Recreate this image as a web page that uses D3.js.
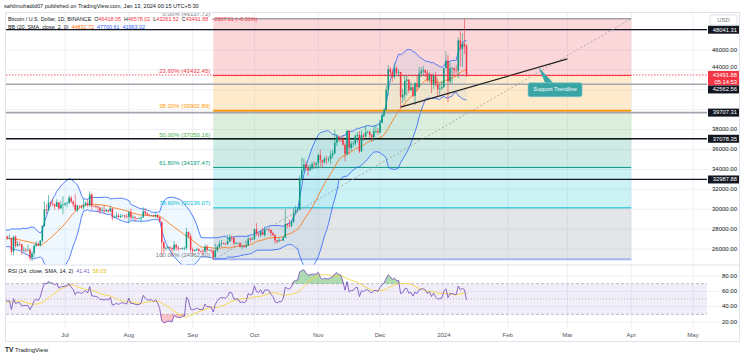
<!DOCTYPE html>
<html>
<head>
<meta charset="utf-8">
<script src="https://cdn.jsdelivr.net/npm/d3@7"></script>
<style>
  body { margin: 0; background: #fff; }
  svg { display: block; font-family: "Liberation Sans", Arial, sans-serif; }
</style>
</head>
<body>
<div id="chart"></div>
<script>
/* BTCUSD daily with fib retracement, bollinger bands and RSI */

const startDate = "2023-05-01";
const firstOpen = 29233;
const lastOpen = 46418.05;

// daily closes, May 1 2023 .. Jan 12 2024
const closes = [
  28068,28669,29026,28838,29506,28848,28430,27668,27629,27599,26964,26795,26775,26917,27162,27032,27405,26821,26881,27102,26748,26851,27219,26329,26474,26720,26868,28085,27745,27702,27219,
  26819,27249,27069,27115,25728,27231,26340,26498,26477,25842,25924,25903,25920,25124,25576,26328,26511,26336,26841,28307,29994,29887,30688,30528,30462,30267,30693,30078,30445,30472,
  30585,30617,31156,30766,30504,29895,30346,30292,30171,30414,30620,30391,31476,30332,30295,30249,30145,29856,29909,29800,29909,29793,30083,29176,29228,29354,29210,29317,29357,29278,29230,
  29705,29186,29193,29114,29072,29088,29183,29767,29563,29426,29397,29415,29283,29409,29170,28701,26664,26050,26100,26189,26124,25985,26422,26160,26050,26007,26091,26100,27720,27300,25940,
  25800,25870,25970,25810,25780,25750,26240,25900,25900,25840,25160,25840,26220,26530,26600,26570,26530,26760,27210,27130,26570,26580,26580,26250,26300,26220,26350,27020,26910,26970,
  27990,27500,27430,27790,27410,27930,27950,27920,27590,27390,26870,26760,26860,26850,27150,28500,28400,28330,28720,29670,29910,29990,33070,33920,34500,34150,33900,34090,34530,34490,34650,
  35420,34940,34720,35080,35020,35040,35420,35630,36700,37310,37130,37060,36490,35550,37880,36160,36590,36590,37390,37470,35810,37430,37290,37720,37800,37450,37240,37830,37850,37720,
  38690,39460,39970,41990,44080,43770,43290,44170,43720,43790,41240,41490,42890,43020,41940,42260,41370,42660,42270,43650,43860,43990,43720,43010,43580,42520,43440,42580,42070,42140,42280,
  44180,44940,42850,44150,44160,43970,43930,46970,46110,46630,46340,43491.88
];
const highs = [
  29337,28879,29259,29376,29850,29820,29160,28631,27820,28330,27630,27050,27030,27200,27670,27290,27500,27480,27190,27150,27270,27050,27480,27230,26620,26940,26920,28190,28450,28040,27840,
  27350,27300,27330,27450,27140,27340,27390,26800,26780,26530,26220,26090,26420,26080,25750,26470,26780,26680,26900,28400,30800,30500,31430,30800,31050,30660,31000,30700,30840,31280,
  30660,30770,31380,31320,30880,31500,30440,30390,30430,31030,30800,30980,31800,31640,30390,30450,30340,30240,30190,30420,30060,29990,30350,30100,29380,29690,29570,29530,29420,29450,29530,
  29740,30050,29420,29320,29110,29180,29240,30200,30130,29700,29530,29450,29450,29660,29470,29260,28790,26830,26300,26290,26260,26140,26800,26550,26310,26100,26180,26220,28140,27760,27570,
  26140,25980,26130,26090,25860,26020,26430,26450,25950,26000,25880,26540,26400,26850,26890,26670,26630,27420,27480,27380,27160,26740,26640,26740,26430,26390,26820,27290,27230,27090,
  28060,28590,27670,27830,28120,28280,28040,28100,27990,27730,27480,26940,27100,26970,27290,30000,28610,28980,28920,30200,30360,30230,33400,35200,35130,34850,34490,34480,34760,34850,34720,
  35580,35980,34940,35260,35380,35270,35880,35980,37970,37520,37420,37230,37420,36770,37980,37930,36850,36860,37500,37750,37850,37890,37660,38420,37890,37840,37590,38390,38440,38150,
  38980,39700,40200,42420,44490,44300,44050,44700,44370,44040,43800,42100,43430,43420,43090,42760,42440,42760,43480,44280,44230,44400,44020,43950,43800,43600,43680,43790,43120,42600,42900,
  44190,45880,45500,44770,44330,44230,44500,47250,47900,47700,49100,46578.02
];
const lows = [
  27666,27872,28110,28670,28800,28380,28400,27265,27360,26850,26700,25800,26690,26600,26750,26850,26570,26630,26580,26830,26650,26520,26820,25870,25860,26330,26560,26850,27540,27560,26830,
  26600,26510,26920,26960,25390,25350,26120,26200,26270,25400,25640,25650,25750,24820,24750,25160,26180,26300,26250,26650,28260,29520,29810,30250,30290,29920,30220,29880,30050,29500,
  30320,30170,30550,30640,30200,29850,29700,30050,30060,29950,30270,30200,30250,29940,30250,30090,29660,29510,29760,29570,29720,29640,29740,28860,29080,29100,29070,29120,29260,29040,29100,
  28580,28950,28950,28760,28960,28970,28700,29150,29370,29330,29300,29360,29250,29100,29060,28700,25170,25630,25800,25970,25810,25300,25780,25850,25780,25980,25960,25870,25920,27030,25660,
  25330,25720,25810,25600,25560,25360,25600,25640,25800,25580,24900,25130,25750,26130,26250,26480,26380,26390,26680,26800,26360,26490,26520,26140,25990,26100,26100,26330,26670,26890,
  26950,27330,27160,27200,27370,27170,27880,27720,27300,27290,26550,26560,26700,26810,26820,27110,28080,28140,28170,28610,29470,29720,29880,32880,33680,33820,33340,33880,34040,34070,34080,
  34100,34300,34110,34580,34520,34730,34520,35110,35530,36340,36750,36740,36350,34800,35360,35500,35870,36180,36380,36700,35630,35770,36870,37250,37600,37160,36750,36870,37610,37500,
  37620,38650,39290,39980,41420,43340,42820,43080,43580,43300,40220,40680,40880,41420,41660,41880,41250,40500,41800,42180,43270,43400,43300,42760,42750,41680,42100,42320,41300,41520,41960,
  42190,44150,40750,42630,42630,43470,43620,43200,44350,44300,45610,43263.52
];

const fibHigh = 49137.72, fibLow = 24962.60;
const fibStart = "2023-09-11", fibEnd = "2024-04-01";
const fibRatios = [0, 0.236, 0.382, 0.5, 0.618, 0.786, 1];
const fibLabels = ["0.00% (49137.72)", "23.60% (43432.45)", "38.20% (39902.89)", "50.00% (37050.16)",
                   "61.80% (34197.47)", "78.60% (30136.07)", "100.00% (24962.60)"];
const fibColors = ["#787B86", "#F23645", "#FF9800", "#4CAF50", "#089981", "#00BCD4", "#787B86"];

const blackLevels = [48041.31, 37078.35, 32987.88];
const grayLevels = [42562.56, 39707.31];
const lastPrice = 43491.88;
const countdown = "05:14:53";

const supportLine = [["2023-12-11", 40250], ["2024-03-01", 45100]];
const dottedLine = [["2023-09-11", 24900], ["2024-04-01", 49137.72]];
const callout = { text: "Support Trendline", anchor: "2024-02-16", boxDate: "2024-02-24", boxPrice: 42000 };

const priceTicks = [26000, 28000, 30000, 32000, 34000, 36000, 38000, 40000, 42000, 44000, 46000, 48000];
const rsiTicks = [20, 40, 60, 80];
const monthTicks = ["2023-07-01", "2023-08-01", "2023-09-01", "2023-10-01", "2023-11-01", "2023-12-01",
                    "2024-01-01", "2024-02-01", "2024-03-01", "2024-04-01", "2024-05-01"];
const monthLabels = ["Jul", "Aug", "Sep", "Oct", "Nov", "Dec", "2024", "Feb", "Mar", "Apr", "May"];

const headerText = "sahilmohadid07 published on TradingView.com, Jan 13, 2024 00:15 UTC+5:30";
const ohlcText = ["O46418.05", "H46578.02", "L43263.52", "C43491.88", "\u22122907.01 (\u22126.31%)"];
const bbValues = ["44832.72", "47700.61", "41963.02"];
const rsiValues = ["41.41", "58.03"];

let width = 745,
    height = 358,
    plot = { left: 6, right: 707, top: 13, bottom: 265 },
    rsiPane = { top: 265, bottom: 328 },
    axisRight = 740,
    frameBottom = 342;

const svg = d3.select("#chart")
  .append("svg")
  .attr("width", width)
  .attr("height", height);

const parse = s => new Date(Date.parse(s));
const dayMs = 864e5;
const t0 = Date.parse(startDate);

let data = closes.map((c, i) => ({
  date: new Date(t0 + i * dayMs),
  open: i ? closes[i - 1] : firstOpen,
  high: highs[i],
  low: lows[i],
  close: c
}));
data[data.length - 1].open = lastOpen;

// bollinger bands 20, 2
for (let i = 19; i < data.length; i++) {
  let w = closes.slice(i - 19, i + 1);
  let m = d3.mean(w);
  let sd = Math.sqrt(d3.mean(w, v => (v - m) ** 2));
  data[i].basis = m;
  data[i].upper = m + 2 * sd;
  data[i].lower = m - 2 * sd;
}

// rsi 14 (wilder) and its 14 sma
let avgGain = 0, avgLoss = 0;
for (let i = 1; i < data.length; i++) {
  let ch = closes[i] - closes[i - 1];
  let g = Math.max(ch, 0), l = Math.max(-ch, 0);
  if (i <= 14) {
    avgGain += g / 14; avgLoss += l / 14;
    if (i < 14) continue;
  } else {
    avgGain = (avgGain * 13 + g) / 14;
    avgLoss = (avgLoss * 13 + l) / 14;
  }
  data[i].rsi = 100 - 100 / (1 + avgGain / avgLoss);
}
for (let i = 27; i < data.length; i++) {
  data[i].rsiMa = d3.mean(data.slice(i - 13, i + 1), d => d.rsi);
}

let x = d3.scaleUtc()
  .domain([parse(monthTicks[0]), parse(monthTicks[monthTicks.length - 1])])
  .range([65, 693]);

let y = d3.scaleLinear()
  .domain([26000, 46000])
  .range([249, 50]);

let rsiY = d3.scaleLinear()
  .domain([20, 80])
  .range([322, 276]);

const fmt = d3.format(".2f");

let defs = svg.append("defs");
defs.append("clipPath").attr("id", "clipPrice")
  .append("rect").attr("x", plot.left).attr("y", plot.top)
  .attr("width", plot.right - plot.left).attr("height", plot.bottom - plot.top);
defs.append("clipPath").attr("id", "clipRsi")
  .append("rect").attr("x", plot.left).attr("y", rsiPane.top)
  .attr("width", plot.right - plot.left).attr("height", rsiPane.bottom - rsiPane.top);

// grid
let grid = svg.append("g").attr("stroke", "#eef0f4").attr("stroke-width", 1);
for (let m of monthTicks) {
  grid.append("line")
    .attr("x1", x(parse(m))).attr("x2", x(parse(m)))
    .attr("y1", plot.top).attr("y2", rsiPane.bottom);
}
for (let p of priceTicks) {
  grid.append("line")
    .attr("x1", plot.left).attr("x2", axisRight)
    .attr("y1", y(p)).attr("y2", y(p));
}
for (let r of rsiTicks) {
  grid.append("line")
    .attr("x1", plot.left).attr("x2", axisRight)
    .attr("y1", rsiY(r)).attr("y2", rsiY(r));
}

// ---------- price pane ----------
const pane = svg.append("g").attr("clip-path", "url(#clipPrice)");

let fibLevels = fibRatios.map(r => fibHigh - r * (fibHigh - fibLow));
let fx0 = x(parse(fibStart)), fx1 = x(parse(fibEnd));

for (let k = 0; k < fibLevels.length - 1; k++) {
  pane.append("rect")
    .attr("x", fx0).attr("width", fx1 - fx0)
    .attr("y", y(fibLevels[k])).attr("height", y(fibLevels[k + 1]) - y(fibLevels[k]))
    .attr("fill", fibColors[k + 1]).attr("fill-opacity", 0.2);
}
fibLevels.forEach((lv, k) => {
  pane.append("line")
    .attr("x1", fx0).attr("x2", fx1)
    .attr("y1", y(lv)).attr("y2", y(lv))
    .attr("stroke", k === fibLevels.length - 1 ? "#a9b6ee" : fibColors[k])
    .attr("stroke-width", k === 2 || k === fibLevels.length - 1 ? 2 : 1);
});

// bollinger bands
let bb = data.filter(d => d.basis !== undefined);
pane.append("path")
  .datum(bb)
  .attr("fill", "#2196F3").attr("fill-opacity", 0.07)
  .attr("d", d3.area().x(d => x(d.date)).y0(d => y(d.lower)).y1(d => y(d.upper)));
for (let key of ["upper", "lower"]) {
  pane.append("path")
    .datum(bb)
    .attr("fill", "none").attr("stroke", "#2962FF").attr("stroke-width", 0.8)
    .attr("d", d3.line().x(d => x(d.date)).y(d => y(d[key])));
}
pane.append("path")
  .datum(bb)
  .attr("fill", "none").attr("stroke", "#FF6D00").attr("stroke-width", 0.8)
  .attr("d", d3.line().x(d => x(d.date)).y(d => y(d.basis)));

// horizontal levels
for (let v of grayLevels) {
  pane.append("line")
    .attr("x1", plot.left).attr("x2", plot.right)
    .attr("y1", y(v)).attr("y2", y(v))
    .attr("stroke", "#a3a6ae").attr("stroke-width", 1.6);
}
for (let v of blackLevels) {
  pane.append("line")
    .attr("x1", plot.left).attr("x2", plot.right)
    .attr("y1", y(v)).attr("y2", y(v))
    .attr("stroke", "#131722").attr("stroke-width", 1.3);
}

// candles
let candles = pane.append("g");
for (let d of data) {
  let col = d.close >= d.open ? "#089981" : "#F23645";
  let cx = x(d.date);
  candles.append("line")
    .attr("x1", cx).attr("x2", cx)
    .attr("y1", y(d.high)).attr("y2", y(d.low))
    .attr("stroke", col).attr("stroke-width", 0.6);
  let top = y(Math.max(d.open, d.close)), bot = y(Math.min(d.open, d.close));
  candles.append("rect")
    .attr("x", cx - 0.75).attr("width", 1.5)
    .attr("y", top).attr("height", Math.max(bot - top, 0.6))
    .attr("fill", col);
}

// trend lines
pane.append("line")
  .attr("x1", x(parse(dottedLine[0][0]))).attr("y1", y(dottedLine[0][1]))
  .attr("x2", x(parse(dottedLine[1][0]))).attr("y2", y(dottedLine[1][1]))
  .attr("stroke", "#9a9ca3").attr("stroke-width", 0.8).attr("stroke-dasharray", "2 2");
pane.append("line")
  .attr("x1", x(parse(supportLine[0][0]))).attr("y1", y(supportLine[0][1]))
  .attr("x2", x(parse(supportLine[1][0]))).attr("y2", y(supportLine[1][1]))
  .attr("stroke", "#222").attr("stroke-width", 1.3);

// current price line
pane.append("line")
  .attr("x1", plot.left).attr("x2", plot.right)
  .attr("y1", y(lastPrice)).attr("y2", y(lastPrice))
  .attr("stroke", "#F23645").attr("stroke-width", 0.8).attr("stroke-dasharray", "1.5 1.5");

// fib labels
fibLevels.forEach((lv, k) => {
  pane.append("text")
    .text(fibLabels[k])
    .attr("x", fx0 - 3).attr("y", y(lv) - 2.5)
    .attr("text-anchor", "end")
    .attr("font-size", 6)
    .attr("fill", fibColors[k]);
});

// callout
let slope = (y(supportLine[1][1]) - y(supportLine[0][1])) / (x(parse(supportLine[1][0])) - x(parse(supportLine[0][0])));
let ax = x(parse(callout.anchor));
let ay = y(supportLine[0][1]) + slope * (ax - x(parse(supportLine[0][0])));
let bx = x(parse(callout.boxDate)), by = y(callout.boxPrice);
pane.append("path")
  .attr("d", `M${ax},${ay}L${bx - 10},${by - 7}L${bx - 2},${by - 7}Z`)
  .attr("fill", "#3aa5a5");
pane.append("rect")
  .attr("x", bx - 27).attr("y", by - 7).attr("width", 54).attr("height", 14).attr("rx", 2)
  .attr("fill", "#3aa5a5").attr("stroke", "#7cc7c7").attr("stroke-width", 0.6);
pane.append("text")
  .text(callout.text)
  .attr("x", bx).attr("y", by)
  .attr("text-anchor", "middle").attr("dominant-baseline", "middle")
  .attr("font-size", 5.5).attr("fill", "#fff");

// ---------- rsi pane ----------
const rp = svg.append("g").attr("clip-path", "url(#clipRsi)");
let rsiData = data.filter(d => d.rsi !== undefined);
let maData = data.filter(d => d.rsiMa !== undefined);

rp.append("rect")
  .attr("x", plot.left).attr("width", plot.right - plot.left)
  .attr("y", rsiY(70)).attr("height", rsiY(30) - rsiY(70))
  .attr("fill", "#7E57C2").attr("fill-opacity", 0.1);
for (let lv of [70, 50, 30]) {
  rp.append("line")
    .attr("x1", plot.left).attr("x2", plot.right)
    .attr("y1", rsiY(lv)).attr("y2", rsiY(lv))
    .attr("stroke", "#a0a3ab").attr("stroke-width", 0.7)
    .attr("stroke-dasharray", lv === 50 ? "1 2" : "3 2");
}
rp.append("path")
  .datum(rsiData)
  .attr("fill", "#4CAF50").attr("fill-opacity", 0.45)
  .attr("d", d3.area().x(d => x(d.date)).y0(rsiY(70)).y1(d => rsiY(Math.max(d.rsi, 70))));
rp.append("path")
  .datum(rsiData)
  .attr("fill", "#F23645").attr("fill-opacity", 0.3)
  .attr("d", d3.area().x(d => x(d.date)).y0(rsiY(30)).y1(d => rsiY(Math.min(d.rsi, 30))));
rp.append("path")
  .datum(maData)
  .attr("fill", "none").attr("stroke", "#F5D63B").attr("stroke-width", 0.9)
  .attr("d", d3.line().x(d => x(d.date)).y(d => rsiY(d.rsiMa)));
rp.append("path")
  .datum(rsiData)
  .attr("fill", "none").attr("stroke", "#7E57C2").attr("stroke-width", 0.9)
  .attr("d", d3.line().x(d => x(d.date)).y(d => rsiY(d.rsi)));

// ---------- frame ----------
let frame = svg.append("g").attr("fill", "none").attr("stroke", "#e0e3eb").attr("stroke-width", 1);
frame.append("rect")
  .attr("x", plot.left - 0.5).attr("y", plot.top - 0.5)
  .attr("width", axisRight - plot.left).attr("height", frameBottom - plot.top);
frame.append("line").attr("x1", plot.left).attr("x2", axisRight)
  .attr("y1", plot.bottom).attr("y2", plot.bottom);

// ---------- price axis ----------
let tags = blackLevels.concat(grayLevels).map(v => ({ y: y(v), up: 4, down: 4, fill: "#131722", lines: [fmt(v)] }));
tags.push({ y: y(lastPrice), up: 4, down: 10.5, fill: "#F23645", lines: [fmt(lastPrice), countdown] });
tags.sort((a, b) => a.y - b.y);
for (let i = 1; i < tags.length; i++) {
  let prevBottom = tags[i - 1].y + tags[i - 1].down;
  if (tags[i].y - tags[i].up < prevBottom) tags[i].y = prevBottom + tags[i].up;
}

let axis = svg.append("g").attr("font-size", 6).attr("fill", "#131722");
for (let p of priceTicks) {
  let py = y(p);
  if (py < plot.top + 12) continue;
  let hit = tags.find(t => py > t.y - t.up - 3 && py < t.y + t.down + 3);
  if (hit) {
    // a tick just above a tag is nudged up, others sit under the tag
    if (py < hit.y - hit.up + 2 && hit.lines.length > 1) py = hit.y - hit.up - 3.3;
    else continue;
  }
  axis.append("text")
    .text(fmt(p))
    .attr("x", 737).attr("y", py)
    .attr("text-anchor", "end").attr("dominant-baseline", "middle");
}
for (let t of tags) {
  axis.append("rect")
    .attr("x", 708).attr("y", t.y - t.up)
    .attr("width", 31).attr("height", t.up + t.down)
    .attr("fill", t.fill);
  t.lines.forEach((s, i) => {
    axis.append("text")
      .text(s)
      .attr("x", 737).attr("y", t.y + i * 6.8 + 0.3)
      .attr("text-anchor", "end").attr("dominant-baseline", "middle")
      .attr("font-size", 5.8)
      .attr("fill", "#fff");
  });
}
axis.append("rect")
  .attr("x", 710).attr("y", 15).attr("width", 27).attr("height", 10).attr("rx", 2)
  .attr("fill", "#fff").attr("stroke", "#e0e3eb");
axis.append("text").text("USD")
  .attr("x", 723.5).attr("y", 20.3)
  .attr("text-anchor", "middle").attr("dominant-baseline", "middle")
  .attr("fill", "#787B86");

for (let r of rsiTicks) {
  axis.append("text")
    .text(fmt(r))
    .attr("x", 737).attr("y", rsiY(r))
    .attr("text-anchor", "end").attr("dominant-baseline", "middle");
}

// time axis
monthTicks.forEach((m, i) => {
  svg.append("text")
    .text(monthLabels[i])
    .attr("x", x(parse(m))).attr("y", 335.5)
    .attr("text-anchor", "middle").attr("dominant-baseline", "middle")
    .attr("font-size", 6).attr("fill", "#50535e");
});

// ---------- legends ----------
svg.append("text")
  .text(headerText)
  .attr("x", 4).attr("y", 6.5)
  .attr("dominant-baseline", "middle")
  .attr("font-size", 5.6).attr("fill", "#131722");

let l1 = svg.append("text")
  .attr("x", 8).attr("y", 19.5)
  .attr("dominant-baseline", "middle")
  .attr("font-size", 5.4).attr("fill", "#131722");
l1.append("tspan").text("Bitcoin / U.S. Dollar, 1D, BINANCE");
ohlcText.forEach((s, i) => {
  if (i < 4) {
    l1.append("tspan").attr("dx", 3).text(s[0]);
    l1.append("tspan").attr("fill", "#F23645").text(s.slice(1));
  } else {
    l1.append("tspan").attr("dx", 3).attr("fill", "#F23645").text(s);
  }
});

let l2 = svg.append("text")
  .attr("x", 8).attr("y", 27.5)
  .attr("dominant-baseline", "middle")
  .attr("font-size", 5.4).attr("fill", "#131722");
l2.append("tspan").text("BB (20, SMA, close, 2, 0)");
["#FF6D00", "#2962FF", "#2962FF"].forEach((c, i) => {
  l2.append("tspan").attr("dx", 3).attr("fill", c).text(bbValues[i]);
});

let l3 = svg.append("text")
  .attr("x", 8).attr("y", 271.5)
  .attr("dominant-baseline", "middle")
  .attr("font-size", 5.4).attr("fill", "#131722");
l3.append("tspan").text("RSI (14, close, SMA, 14, 2)");
l3.append("tspan").attr("dx", 3).attr("fill", "#7E57C2").text(rsiValues[0]);
l3.append("tspan").attr("dx", 3).attr("fill", "#E2C200").text(rsiValues[1]);

// tradingview mark
let logo = svg.append("g");
logo.append("text").text("TV")
  .attr("x", 5).attr("y", 350)
  .attr("dominant-baseline", "middle")
  .attr("font-size", 6.5).attr("font-weight", "bold").attr("fill", "#131722");
logo.append("text").text("TradingView")
  .attr("x", 15).attr("y", 350)
  .attr("dominant-baseline", "middle")
  .attr("font-size", 6).attr("fill", "#131722");
</script>
</body>
</html>
